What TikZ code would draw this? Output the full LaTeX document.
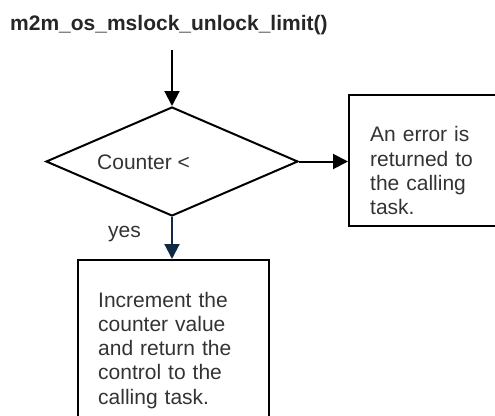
\documentclass[tikz,border=0pt]{standalone}
\usepackage{fontspec}
\setmainfont{Liberation Sans}
\usetikzlibrary{arrows.meta,shapes.geometric}
\definecolor{txtgray}{HTML}{333333}
\definecolor{navy}{HTML}{0E2A45}
\begin{document}
\begin{tikzpicture}[x=1pt,y=-1pt,
  lw/.style={line width=2pt},
  conn/.style={lw,-{Triangle[length=15pt,width=15pt]}},
  box/.style={draw,lw,rectangle,inner sep=0pt,anchor=north west},
  boxtext/.style={inner sep=0pt,anchor=base west,align=left,text=txtgray,
    font=\fontsize{21}{24.3}\selectfont},
  decision/.style={draw,lw,diamond,inner sep=0pt,minimum width=252pt,minimum height=109pt}]
\useasboundingbox (0,0) rectangle (495,415);
\begin{scope}
\clip (0,0) rectangle (495,415);
\node[inner sep=0pt,anchor=base west,font=\bfseries\fontsize{21}{24}\selectfont,text=black!85] (title) at (10,30) {m2m\_os\_mslock\_unlock\_limit()};
\coordinate (start) at (172,50);
\node[decision] (dec) at (172,161.5) {};
\node[inner sep=0pt,anchor=base west,text=txtgray,font=\fontsize{21}{24}\selectfont] (dect) at (97,169) {Counter <};
\node[box,minimum width=180pt,minimum height=131pt] (err) at (348,94) {};
\node[boxtext,text width=160pt] (errt) at (370,141.7) {An error is\\returned to\\the calling\\task.};
\node[box,minimum width=191pt,minimum height=180pt] (inc) at (77,259) {};
\node[boxtext,text width=170pt] (inct) at (98,307) {Increment the\\counter value\\and return the\\control to the\\calling task.};
\node[inner sep=0pt,anchor=base west,text=txtgray,font=\fontsize{21}{24}\selectfont] (yes) at (108,237) {yes};
\draw[conn] (start) -- (dec.north);
\draw[conn] (dec.east) -- (dec.east -| err.west);
\draw[conn,navy] (dec.south) -- (dec.south |- inc.north);
\end{scope}
\end{tikzpicture}
\end{document}
